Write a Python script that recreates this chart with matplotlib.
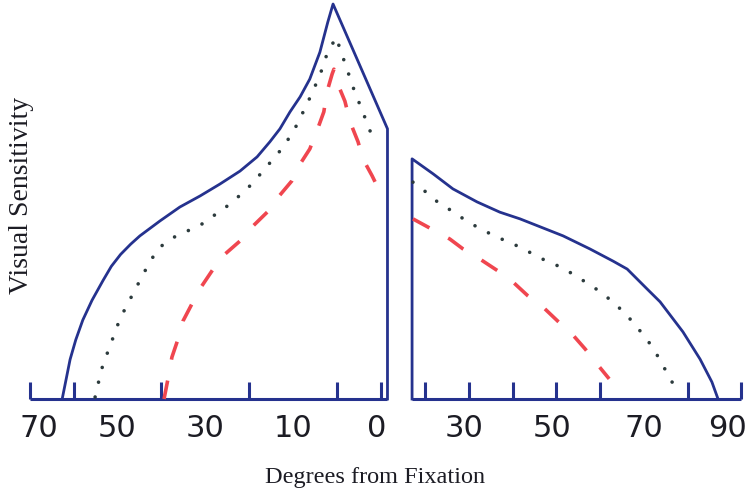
import matplotlib

matplotlib.use("Agg")
import matplotlib.pyplot as plt

NAVY = "#25328e"
RED = "#f0464f"
DOTS = "#2c3b3d"
TEXT = "#1c1c24"

# degrees from fixation (nasal < 0 < temporal) and relative sensitivity
ENV_L_DEG = [-62.6, -61.7, -60.8, -59.5, -57.9, -55.8, -53.3, -51.4, -49.3, -47.0,
             -44.9, -40.3, -35.8, -31.2, -26.7, -22.1, -18.2, -15.3, -13.0, -10.7,
             -8.4, -6.2, -3.9, -2.1, -0.9, 11.5, 11.5]
ENV_L_SENS = [0, 5, 10, 15, 20, 25, 30, 33.6, 36.6, 39.2,
              41.3, 45.1, 48.6, 51.4, 54.4, 57.7, 61.3, 65.1, 68.4, 72.7,
              76.5, 81.0, 87.8, 95.4, 100, 68.4, 0]
ENV_R_DEG = [17.1, 17.1, 21.9, 26.4, 31.9, 37.1, 41.7, 51.5, 57.6, 62.9,
             66.1, 70.6, 73.6, 78.8, 82.7, 85.4, 86.8]
ENV_R_SENS = [0, 60.8, 57.0, 53.2, 49.9, 47.3, 45.6, 41.3, 38.0, 34.9,
              32.9, 27.9, 24.6, 17.0, 10.1, 4.3, 0]

DOT_L_DEG = [-55.1, -54.0, -53.1, -51.7, -50.6, -49.2, -47.6, -46.0, -44.4, -42.6,
             -40.8, -38.0, -34.6, -31.4, -28.5, -25.5, -22.8, -20.3, -17.8, -15.5,
             -13.2, -11.2, -9.3, -7.7, -6.2, -4.8, -3.4, -2.3, -0.2, 1.1,
             2.3, 3.4, 4.6, 5.9, 7.1, 8.7]
DOT_L_SENS = [0.5, 5.8, 9.6, 13.2, 17.0, 20.8, 24.3, 27.6, 31.1, 34.7,
              38.0, 40.5, 42.3, 43.8, 46.1, 48.4, 50.9, 53.4, 56.5, 59.5,
              62.5, 65.6, 69.1, 72.7, 76.2, 79.7, 83.5, 87.3, 91.6, 87.3,
              83.5, 79.7, 76.2, 72.7, 68.9, 65.1]
DOT_R_DEG = [17.3, 20.5, 23.2, 26.2, 29.2, 32.3, 35.5, 38.5, 41.2, 48.1,
             51.5, 54.4, 57.4, 60.4, 63.1, 65.8, 68.1, 70.4, 72.4, 74.0,
             75.9, 77.4]
DOT_R_SENS = [54.9, 52.2, 49.6, 47.6, 45.3, 43.3, 41.5, 40.0, 38.7, 34.7,
              33.2, 31.1, 29.1, 26.8, 24.3, 21.5, 18.5, 15.4, 12.2, 8.9,
              5.3, 1.8]

RED_L_DEG = [-39.4, -38.5, -37.6, -36.2, -35.1, -32.8, -30.8, -28.2, -25.5, -22.1,
             -19.4, -15.9, -13.4, -10.3, -8.4, -6.2, -4.6, -3.0, -2.3, -1.1,
             -0.7, 0.2, 1.8, 3.0, 4.8, 5.9, 8.0, 9.8, 10.9]
RED_L_SENS = [0, 5.1, 10.6, 15.2, 19.7, 24.6, 28.6, 32.9, 36.7, 40.0,
              43.5, 47.3, 51.1, 55.2, 59.5, 63.3, 67.8, 72.7, 77.7, 82.3,
              83.5, 79.7, 75.4, 70.1, 65.1, 60.8, 56.5, 52.4, 50.6]
RED_R_DEG = [17.3, 21.6, 25.7, 28.7, 32.6, 36.7, 40.1, 43.5, 46.9, 50.3,
             53.5, 56.5, 59.2, 62.0]
RED_R_SENS = [45.6, 43.0, 40.5, 38.0, 35.4, 32.4, 29.6, 26.1, 23.3, 19.7,
              16.5, 12.7, 8.9, 5.1]

BASE_L = [-70, 11.5]
BASE_R = [17.1, 92]
TICK_MARKS = [-70, -60, -50, -40, -30, -20, -10, 0, 10, 20, 30, 40, 50, 60, 70, 80, 92]
LABEL_POS = [-68, -50, -30, -10, 9, 29, 49, 70, 89]
LABELS = ["70", "50", "30", "10", "0", "30", "50", "70", "90"]


def main():
    fig = plt.figure(figsize=(7.47, 4.89), dpi=100)
    ax = fig.add_axes([25 / 747, 89 / 489, 720 / 747, 400 / 489])
    ax.set_xlim(-71.07, 92.94)
    ax.set_ylim(0, 101.27)

    ax.plot(BASE_L, [0, 0], color=NAVY, lw=2.2, solid_capstyle="butt", clip_on=False)
    ax.plot(BASE_R, [0, 0], color=NAVY, lw=2.2, solid_capstyle="butt", clip_on=False)
    ax.plot(ENV_L_DEG, ENV_L_SENS, color=NAVY, lw=2.0, clip_on=False)
    ax.plot(ENV_R_DEG, ENV_R_SENS, color=NAVY, lw=2.0, clip_on=False)

    dot_style = dict(color=DOTS, lw=2.6, linestyle=(0, (0.01, 4.2)),
                     dash_capstyle="round", clip_on=False)
    ax.plot(DOT_L_DEG, DOT_L_SENS, **dot_style)
    ax.plot(DOT_R_DEG, DOT_R_SENS, **dot_style)

    red_style = dict(color=RED, lw=2.6, linestyle=(0, (5.2, 5.9)), clip_on=False)
    ax.plot(RED_L_DEG, RED_L_SENS, **red_style)
    ax.plot(RED_R_DEG, RED_R_SENS, **red_style)

    ax.set_xticks(LABEL_POS, LABELS)
    ax.set_xticks(TICK_MARKS, minor=True)
    ax.tick_params(axis="x", which="major", length=0, pad=10, labelsize=22,
                   labelcolor=TEXT, labelfontfamily="Liberation Sans Narrow")
    ax.tick_params(axis="x", which="minor", direction="in", length=12, width=2.2,
                   color=NAVY)
    ax.set_yticks([])
    for s in ax.spines.values():
        s.set_visible(False)
    ax.patch.set_visible(False)

    ax.set_xlabel("Degrees from Fixation", fontsize=17.5, family="Liberation Serif", color=TEXT)
    ax.xaxis.set_label_coords((375 - 25) / 720, -0.168)
    ax.set_ylabel("Visual Sensitivity", fontsize=20, family="Liberation Serif", color=TEXT)
    ax.yaxis.set_label_coords((34 - 25) / 720, 0.5125)

    fig.savefig("out.png", dpi=100)
    plt.close(fig)


if __name__ == "__main__":
    main()
